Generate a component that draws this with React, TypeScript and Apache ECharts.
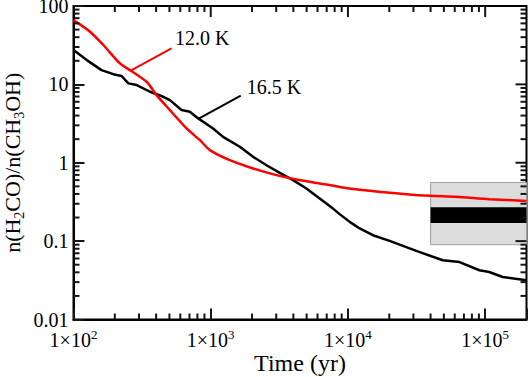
import React, { useEffect, useRef } from 'react';
import * as echarts from 'echarts';

// 12.0 K model (red)
const timeRed = [100, 132, 165, 218, 258, 341, 403, 504, 667, 834, 985, 1376, 2036, 3015, 4210, 6220, 8700, 12170, 26600, 39800, 61500, 107000, 200000];
const ratioRed = [66, 47, 31.8, 18.5, 15.2, 10.8, 7.3, 4.7, 2.74, 1.94, 1.45, 1.08, 0.845, 0.695, 0.612, 0.545, 0.492, 0.453, 0.397, 0.378, 0.367, 0.343, 0.326];

// 16.5 K model (black)
const timeBlack = [100, 125, 160, 195, 224, 251, 289, 361, 451, 504, 613, 705, 810, 1040, 1230, 1628, 2036, 2550, 3185, 3980, 4980, 6220, 7780, 8700, 10300, 12170, 15200, 20100, 31500, 49100, 65000, 90800, 107000, 134000, 200000];
const ratioBlack = [27.4, 20.4, 15.2, 13.5, 12.8, 10.3, 9.8, 8.05, 6.95, 6.3, 4.7, 4.47, 3.68, 2.74, 2.14, 1.6, 1.19, 0.93, 0.743, 0.6, 0.47, 0.35, 0.26, 0.221, 0.176, 0.145, 0.119, 0.1006, 0.075, 0.057, 0.054, 0.0425, 0.0404, 0.0349, 0.0317];

// observed range boxes
const boxTime = [40000, 200000];
const boxOuter = [0.09, 0.56];
const boxInner = [0.17, 0.27];

// annotations
const labelRed = { text: '12.0 K', at: [548, 39.6], lineTime: [518, 265], lineRatio: [28.8, 15.2] };
const labelBlack = { text: '16.5 K', at: [1832, 9.38], lineTime: [1656, 818], lineRatio: [7.19, 3.66] };

// axes
const xRange = [100, 200000];
const yRange = [0.01, 100];
const xMajorTicks = [1000, 10000, 100000];
const yMajorTicks = [0.1, 1, 10];
const xMinorTicks = [200, 300, 400, 500, 600, 700, 800, 900, 2000, 3000, 4000, 5000, 6000, 7000, 8000, 9000, 20000, 30000, 40000, 50000, 60000, 70000, 80000, 90000];
const yMinorTicks = [0.02, 0.03, 0.04, 0.05, 0.06, 0.07, 0.08, 0.09, 0.2, 0.3, 0.4, 0.5, 0.6, 0.7, 0.8, 0.9, 2, 3, 4, 5, 6, 7, 8, 9, 20, 30, 40, 50, 60, 70, 80, 90];

const FONT = '"Liberation Serif", "Times New Roman", Times, serif';
const TICK = '#151515';

function decadeExp(v: number): number | null {
  const e = Math.round(Math.log10(v));
  return Math.abs(v / Math.pow(10, e) - 1) < 1e-6 ? e : null;
}

export default function App() {
  const ref = useRef<HTMLDivElement>(null);
  useEffect(() => {
    if (!ref.current) return;
    const chart = echarts.init(ref.current, undefined, { renderer: 'svg' });
    const option: any = {
      animation: false,
      grid: {
        left: 73.5, top: 6, right: 2.5, bottom: 57.5, containLabel: false, outerBoundsMode: 'none',
        show: true, borderColor: '#000', borderWidth: 2, backgroundColor: 'transparent',
      },
      xAxis: [
        {
          type: 'log', min: xRange[0], max: xRange[1],
          name: 'Time (yr)', nameLocation: 'middle', nameGap: 31, nameMoveOverlap: false,
          nameTextStyle: { fontFamily: FONT, fontSize: 24, color: '#000' },
          axisLine: { show: true, onZero: false, lineStyle: { color: '#000', width: 2 } },
          axisTick: { show: true, inside: true, length: 11, lineStyle: { color: TICK, width: 2 } },
          axisLabel: {
            show: true, margin: 8, fontFamily: FONT, fontSize: 20, color: '#000',
            formatter: (v: number) => { const e = decadeExp(v); return e === null ? '' : `{a|1×10}{b|${e}}`; },
            rich: {
              a: { fontFamily: FONT, fontSize: 20, color: '#000', lineHeight: 24 },
              b: { fontFamily: FONT, fontSize: 13, color: '#000', verticalAlign: 'top', lineHeight: 14 },
            },
          },
          splitLine: { show: false },
        },
      ],
      yAxis: [
        {
          type: 'log', min: yRange[0], max: yRange[1],
          name: 'n(H{s|2}CO)/n(CH{s|3}OH)', nameLocation: 'middle', nameGap: 47, nameRotate: 90, nameMoveOverlap: false,
          nameTextStyle: {
            fontFamily: FONT, fontSize: 22, color: '#000', lineHeight: 28,
            rich: { s: { fontFamily: FONT, fontSize: 14, color: '#000', verticalAlign: 'bottom', lineHeight: 14 } },
          },
          axisLine: { show: true, onZero: false, lineStyle: { color: '#000', width: 2 } },
          axisTick: { show: true, inside: true, length: 11, lineStyle: { color: TICK, width: 2 } },
          axisLabel: {
            show: true, margin: 5, fontFamily: FONT, fontSize: 20, color: '#000',
            formatter: (v: number) => {
              const e = decadeExp(v);
              if (e === null) return '';
              return e >= 0 ? String(Math.pow(10, e)) : Math.pow(10, e).toFixed(-e);
            },
          },
          splitLine: { show: false },
        },
      ],
      series: [
        {
          type: 'line', name: '16.5 K', symbol: 'none',
          data: timeBlack.map((t, i) => [t, ratioBlack[i]]),
          lineStyle: { color: '#000', width: 2.5 },
        },
        {
          type: 'line', name: '12.0 K', symbol: 'none', smooth: 0.25,
          data: timeRed.map((t, i) => [t, ratioRed[i]]),
          lineStyle: { color: '#ff0000', width: 2.5 },
        },
        {
          type: 'line', symbol: 'none',
          data: labelRed.lineTime.map((t, i) => [t, labelRed.lineRatio[i]]),
          lineStyle: { color: '#ff0000', width: 2 },
        },
        {
          type: 'line', symbol: 'none',
          data: labelBlack.lineTime.map((t, i) => [t, labelBlack.lineRatio[i]]),
          lineStyle: { color: '#000', width: 2 },
        },
      ],
    };
    chart.setOption(option);

    // Boxes, top/right major ticks, all minor ticks and the annotation texts, placed through the chart's scales
    const toPx = (t: number, v: number) => chart.convertToPixel({ gridIndex: 0 } as any, [t, v]) as number[];
    const left = toPx(xRange[0], yRange[0])[0];
    const right = toPx(xRange[1], yRange[0])[0];
    const bottom = toPx(xRange[0], yRange[0])[1];
    const top = toPx(xRange[0], yRange[1])[1];
    const els: any[] = [];

    const o1 = toPx(boxTime[0], boxOuter[1]);
    const o2 = toPx(boxTime[1], boxOuter[0]);
    els.push({ type: 'rect', z: 0, shape: { x: o1[0], y: o1[1], width: o2[0] - o1[0], height: o2[1] - o1[1] }, style: { fill: '#dcdcdc', stroke: '#a0a0a0', lineWidth: 1 } });
    const i1 = toPx(boxTime[0], boxInner[1]);
    const i2 = toPx(boxTime[1], boxInner[0]);
    els.push({ type: 'rect', z: 0, shape: { x: i1[0], y: i1[1], width: i2[0] - i1[0], height: i2[1] - i1[1] }, style: { fill: '#000' } });

    const vtick = (x: number, y: number, h: number) => els.push({ type: 'rect', z: 5, shape: { x: x - 1, y, width: 2, height: h }, style: { fill: TICK } });
    const htick = (x: number, y: number, w: number) => els.push({ type: 'rect', z: 5, shape: { x, y: y - 1, width: w, height: 2 }, style: { fill: TICK } });
    xMinorTicks.forEach((t) => {
      const x = toPx(t, yRange[0])[0];
      vtick(x, bottom - 6, 6);
      vtick(x, top, 6);
    });
    xMajorTicks.forEach((t) => {
      const x = toPx(t, yRange[0])[0];
      vtick(x, top, 11);
    });
    yMinorTicks.forEach((v) => {
      const y = toPx(xRange[0], v)[1];
      htick(left, y, 6);
      htick(right - 6, y, 6);
    });
    yMajorTicks.forEach((v) => {
      const y = toPx(xRange[0], v)[1];
      htick(right - 11, y, 11);
    });
    [labelRed, labelBlack].forEach((lab) => {
      const p = toPx(lab.at[0], lab.at[1]);
      els.push({
        type: 'text', z: 5, x: p[0], y: p[1],
        style: { text: lab.text, fontFamily: FONT, fontSize: 20, fill: '#000', align: 'left', verticalAlign: 'middle' },
      });
    });
    chart.setOption({ graphic: { elements: els } });

    return () => chart.dispose();
  }, []);
  return <div ref={ref} style={{ position: 'absolute', left: 0, top: 0, width: 529, height: 377, background: '#fff' }} />;
}
